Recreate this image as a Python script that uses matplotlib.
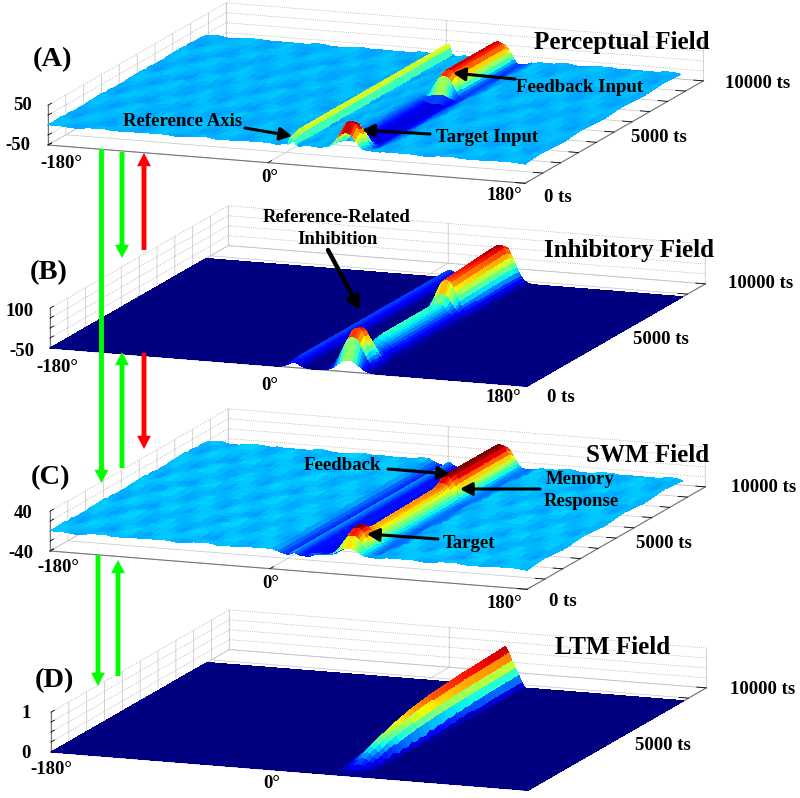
import matplotlib
matplotlib.use("Agg")
import matplotlib.pyplot as plt
from mpl_toolkits.mplot3d import proj3d
import numpy as np

plt.rcParams['font.family'] = ['Liberation Serif', 'DejaVu Serif']
plt.rcParams['font.weight'] = 'bold'

W, H = 800, 798

#tick values, shared by the four fields
angle_ticks = [-180, -14, 180]
angle_labels = ['-180°', '0°', '180°']
time_ticks = [0, 1000, 2000, 3000, 4000, 5000, 6000, 7000, 8000, 9000, 10000]
time_labels = ['0 ts', '5000 ts', '10000 ts']

#time rows of the simulation, one every 250 ts, the field stops at 8750
time_rows = np.arange(0, 9000, 250)

ref_center = 4
target_center = 45

ref_offsets = [-12, -9, -7, -5, -4, -3, -2, -1, 0, 1, 2, 3, 4, 5, 7, 9, 12]
ref_narrow = [0, 0, 0, 0, 0, 0, .8, 1, 1, 1, .8, 0, 0, 0, 0, 0, 0]
ref_wide = [0, .1, .25, .45, .6, .72, .85, .95, 1, .95, .85, .72, .6, .45, .25, .1, 0]
ref_swm = [-4, -7, -9, -10, -10, -8, -5, -3, -2, -4, -7, -9, -10, -11, -11, -11, -11]

peak_offsets = [-28, -25, -22, -20, -18, -16, -14, -12.5, -11, -9.5, -8, -6.5, -5, -3.5, -2, 0,
                2, 3.5, 5, 6.5, 8, 9.5, 11, 12.5, 14, 16, 18, 20, 22, 25, 28]
peak_shape = [0, 0, 0, 0, 0, .01, .03, .08, .16, .3, .45, .62, .78, .9, .97, 1,
              .97, .9, .78, .62, .45, .3, .16, .08, .03, .01, 0, 0, 0, 0, 0]
dome_shape = [0, 0, 0, .01, .03, .07, .14, .22, .32, .44, .57, .7, .82, .92, .98, 1,
              .98, .92, .82, .7, .57, .44, .32, .22, .14, .07, .03, .01, 0, 0, 0]
trench_shape = [0, 0, 0, 0, 0, .05, .15, .28, .42, .58, .72, .84, .92, .97, 1, 1,
                1, 1, 1, .99, .97, .93, .87, .8, .7, .58, .45, .32, .2, .1, 0]
trench_swm = [.75, .78, .82, .86, .9, .93, .96, .98, 1, 1, 1, 1, 1, 1, 1, 1,
              1, 1, 1, .99, .97, .93, .87, .8, .7, .58, .45, .32, .2, .1, 0]
no_trench = [0] * 31

ltm_offsets = [-15, -12.5, -10, -7.5, -5, -2.5, 0, 2.5, 5, 7.5, 10, 12.5, 15]
ltm_shape = [0, .15, .32, .5, .68, .87, 1, .87, .68, .5, .32, .15, 0]
ltm_foot = [0, 0, 0, 0, 0, 0, 0, 0, 0, 0, 1, 1, 0]

#perceptual field over time
per_ref = [.6, .8] + [1] * 34
per_peak = [.6, 1, 1, .7, .15] + [0] * 16 + [.25, .85] + [1] * 12 + [.8]
per_trench = [0, .3, .8] + [1] * 33

#inhibitory field over time
inh_ref = [.7, .9] + [1] * 34
inh_peak = [.3, .8, .97, .92, .6, .33, .33, .36, .4, .42, .42, .42, .42, .42, .42, .42, .42, .42,
            .42, .42, .42, .6, .88, .9, .91, .92, .93, .94, .95, .96, .97, .98, .99, 1, 1, .9]

#working memory field over time
swm_ref = [.8] + [1] * 35
swm_peak = [.3, .7, .95, 1, .85, .72, .68, .68, .69, .69, .7, .7, .71, .71, .72, .72, .73, .73,
            .74, .74, .75, .82, .95, 1, 1, 1, 1, 1, 1, 1, 1, 1, 1, 1, 1, .85]
swm_trench = [.3, .7] + [1] * 34

#long term memory trace over time
ltm_peak = [0, .05, .15, .25, .33, .4, .46, .52, .57, .62, .66, .7, .73, .76, .79, .81, .83, .85,
            .87, .88, .89, .9, .91, .92, .93, .94, .95, .95, .96, .96, .97, .97, .98, .98, .99, 1]
ltm_jag = [0, 0, .03, .01, .06, .02, .09, .03, .1, .05, .12, .04, .11, .06, .12, .03, .09, .05,
           .08, .03, .06, .02, .04, .02, .03, .01, .02, .01, 0, 0, 0, 0, 0, 0, 0, 0]

mottle = np.array([
    [.2, -.5, -.8, .1, .7, .4, -.2, -.7, .3, .9, .1, -.4, .5],
    [-.3, -.9, -.2, .6, .9, -.1, -.6, -.1, .6, .4, -.5, .2, .8],
    [.5, -.1, .4, .2, .1, -.7, -.9, .4, .8, -.3, -.8, .6, .2],
    [.8, .6, .7, -.5, -.6, -.2, .2, .7, .1, -.8, -.2, .9, -.3],
    [.1, .3, -.2, -.9, -.1, .6, .8, -.2, -.6, -.4, .5, .3, -.7],
    [-.6, -.4, -.7, -.3, .5, .9, .2, -.8, -.3, .6, .7, -.5, -.2],
    [-.8, .2, .3, .6, .2, .1, -.5, -.4, .5, .8, -.3, -.9, .4],
    [-.2, .7, .9, .4, -.4, -.6, -.3, .3, .9, .1, -.7, -.1, .7],
    [.4, .1, .2, -.6, -.8, .3, .6, .5, -.1, -.6, .2, .6, .1]])

#pixel positions of the furniture around the plots, (x, y) from the top left
panel_corners = [(48, 145), (50, 348), (50, 551), (51, 752)]
panel_limits = [(-50, 50), (-50, 100), (-40, 40), (0, 1)]
panel_zticks = [[-50, -25, 0, 25, 50], [-50, -12.5, 25, 62.5, 100], [-40, -20, 0, 20, 40], [0, .25, .5, .75, 1]]
panel_colors = [(-24, 56), (-50, 105), (-20, 45), (0, 1)]

#tick label positions per panel, the bottom panel loses its front labels at the picture edge
angle_label_pos = [[(61, 163), (270, 178), (504, 195)], [(57, 368), (270, 386), (503, 398)],
                   [(58, 568), (271, 583), (504, 603)], [(51, 770), (272, 784), None]]
time_label_pos = [[(544, 197), (631, 138), (725, 83)], [(547, 397), (633, 340), (728, 284)],
                  [(549, 602), (636, 543), (731, 488)], [None, (635, 745), (730, 690)]]
value_labels = [[('50', 32, 106), ('-50', 30, 146)], [('100', 34, 311), ('-50', 34, 351)],
                [('40', 33, 513), ('-40', 33, 553)], [('1', 31, 713), ('0', 31, 753)]]

letters = [('(A)', 52, 60), ('(B)', 49, 273), ('(C)', 50, 478), ('(D)', 54, 681)]
titles = [('Perceptual Field', 622, 42), ('Inhibitory Field', 629, 251),
          ('SWM Field', 648, 455), ('LTM Field', 613, 648)]
notes = [('Reference Axis', 183, 122), ('Target Input', 487, 138), ('Feedback Input', 579, 87),
         ('Reference-Related', 337, 217), ('Inhibition', 338, 240), ('Feedback', 342, 465),
         ('Memory', 580, 479), ('Response', 581, 502), ('Target', 469, 543)]
black_arrows = [((245, 128), (292, 136), 2.2), ((430, 134), (362, 130), 2.2), ((515, 79), (453, 73), 2.2),
                ((328, 250), (360, 310), 3.2), ((388, 469), (450, 474), 2.2), ((540, 489), (460, 489), 2.2),
                ((438, 539), (367, 534), 2.2)]
link_arrows = [((101.5, 149), (101.5, 483), 'lime'), ((122, 152), (122, 258), 'lime'), ((144, 250), (144, 153), 'red'),
               ((122, 468), (122, 352), 'lime'), ((144, 353), (144, 449), 'red'), ((98, 555), (98, 686), 'lime'),
               ((118, 676), (118, 560), 'lime')]


def build_columns(offset_sets):
    #nonuniform angle columns: coarse on the flat parts, fine on the ridges
    left = np.arange(-180, -8, 6)
    right = np.arange(78, 184, 6)
    return np.hstack([left] + offset_sets + [right]), len(left), len(right)


def field_surface(ref, ref_amp, ref_h, peak, peak_amp, peak_h, trench, trench_amp, trench_h, base, noise):
    x, nl, nr = build_columns([ref_center + np.array(ref_offsets), target_center + np.array(peak_offsets)])
    zeros_l, zeros_r = np.zeros(nl), np.zeros(nr)
    n_ref, n_peak = len(ref_offsets), len(peak_offsets)
    ref_col = np.hstack([zeros_l, ref, np.zeros(n_peak), zeros_r])
    peak_col = np.hstack([zeros_l, np.zeros(n_ref), peak, zeros_r])
    trench_col = np.hstack([zeros_l, np.zeros(n_ref), trench, zeros_r])
    z = base + ref_h * np.outer(ref_amp, ref_col) + peak_h * np.outer(peak_amp, peak_col)
    z = z - trench_h * np.outer(trench_amp, trench_col)
    if noise:
        #the ridges are smooth, only the flat background is mottled
        rows = (np.arange(len(time_rows)) * 4) % mottle.shape[0]
        cols = (np.arange(len(x)) * 5) % mottle.shape[1]
        calm = 1 - np.clip(np.abs(ref_col) + peak_col + trench_col, 0, 1)
        z = z + noise * mottle[np.ix_(rows, cols)] * calm
    return x, z


def ltm_surface():
    x, nl, nr = build_columns([target_center + np.array(ltm_offsets)])
    col = np.hstack([np.zeros(nl), ltm_shape, np.zeros(nr)])
    foot = np.hstack([np.zeros(nl), ltm_foot, np.zeros(nr)])
    return x, np.outer(ltm_peak, col) - np.outer(ltm_jag, foot)


def to_pixels(ax, x, y, z):
    px, py, _ = proj3d.proj_transform(x, y, z, ax.get_proj())
    dx, dy = ax.transData.transform((px, py))
    return dx, dy


def draw_panel(fig, x, z, corner, zlim, zticks, clim):
    ax = fig.add_axes([0, 0, 1, 1], projection='3d', proj_type='ortho')
    ax.patch.set_alpha(0)
    ax.view_init(elev=12.4, azim=-69.5)
    ax.set_xlim(-180, 180, view_margin=0)
    ax.set_ylim(0, 10000, view_margin=0)
    ax.set_zlim(*zlim, view_margin=0)
    aspect = (1, 1, 0.08)

    #scale the box so the front edge is 477 px long, then move it onto its corner
    ax.set_box_aspect(aspect)
    ax.apply_aspect()
    x0, _ = to_pixels(ax, -180, 0, zlim[0])
    x1, _ = to_pixels(ax, 180, 0, zlim[0])
    ax.set_box_aspect(aspect, zoom=477 / (x1 - x0))
    x0, y0 = to_pixels(ax, -180, 0, zlim[0])
    pos = ax.get_position()
    ax.set_position([pos.x0 + (corner[0] - x0) / W, pos.y0 + (H - corner[1] - y0) / H, pos.width, pos.height])
    ax.apply_aspect()

    X, Y = np.meshgrid(x, time_rows)
    ax.plot_surface(X, Y, z, rstride=1, cstride=1, cmap='jet', vmin=clim[0], vmax=clim[1],
                    linewidth=0, antialiased=False)

    #the labels go on the overlay, they do not keep one offset from the axis
    ax.set_xticks(angle_ticks, [''] * len(angle_ticks))
    ax.set_yticks(time_ticks, [''] * len(time_ticks))
    ax.set_zticks(zticks, [''] * len(zticks))
    ax.zaxis.set_ticks_position('lower')

    for axis in (ax.xaxis, ax.yaxis, ax.zaxis):
        axis.set_pane_color((1, 1, 1, 0))
        axis.pane.set_edgecolor('#cfcfcf')
        axis.line.set_color('#777777')
        axis.line.set_linewidth(0.8)
        axis._axinfo['tick']['inward_factor'] = 0
        axis._axinfo['tick']['outward_factor'] = 0.25
        axis._axinfo['tick']['linewidth'] = {True: 0.6, False: 0.6}
        axis._axinfo['tick']['color'] = '#888888'
        axis._axinfo['grid']['color'] = '#cccccc'
        axis._axinfo['grid']['linewidth'] = 0.6
    ax.zaxis._axinfo['grid']['linestyle'] = ':'
    ax.zaxis._axinfo['grid']['color'] = '#aaaaaa'
    return ax


fig = plt.figure(figsize=(W / 100, H / 100), dpi=100)

surfaces = [
    field_surface(ref_narrow, per_ref, 26, peak_shape, per_peak, 68, trench_shape, per_trench, 17, 0, 2.5),
    field_surface(ref_wide, inh_ref, 30, dome_shape, inh_peak, 150, no_trench, per_trench, 0, -50, 0),
    field_surface(ref_swm, swm_ref, 1, dome_shape, swm_peak, 62, trench_swm, swm_trench, 15, 0, 2.5),
    ltm_surface(),
]
for (x, z), corner, zlim, zticks, clim in zip(surfaces, panel_corners, panel_limits, panel_zticks, panel_colors):
    draw_panel(fig, x, z, corner, zlim, zticks, clim)

#overlay in pixel coordinates for the annotation layer
over = fig.add_axes([0, 0, 1, 1], zorder=10)
over.set_xlim(0, W)
over.set_ylim(H, 0)
over.axis('off')
over.patch.set_alpha(0)

for row in angle_label_pos:
    for s, pos in zip(angle_labels, row):
        if pos:
            over.text(pos[0], pos[1], s, fontsize=13.5, ha='center', va='center')
for row in time_label_pos:
    for s, pos in zip(time_labels, row):
        if pos:
            over.text(pos[0], pos[1], s, fontsize=13.5, ha='left', va='center')
for row in value_labels:
    for s, px, py in row:
        over.text(px, py, s, fontsize=13.5, ha='right', va='center')

for s, px, py in letters:
    over.text(px, py, s, fontsize=20.5, ha='center', va='center')
for s, px, py in titles:
    over.text(px, py, s, fontsize=18, ha='center', va='center')
for s, px, py in notes:
    over.text(px, py, s, fontsize=13.5, ha='center', va='center')

for tail, tip, lw in black_arrows:
    over.annotate('', xy=tip, xytext=tail,
                  arrowprops=dict(arrowstyle='-|>,head_width=0.32,head_length=0.6', color='black',
                                  lw=lw, mutation_scale=12, shrinkA=0, shrinkB=0))
for tail, tip, color in link_arrows:
    over.annotate('', xy=tip, xytext=tail,
                  arrowprops=dict(facecolor=color, edgecolor='none', width=3.5, headwidth=10,
                                  headlength=9.5, shrink=0))

fig.savefig('out.png', dpi=100)
